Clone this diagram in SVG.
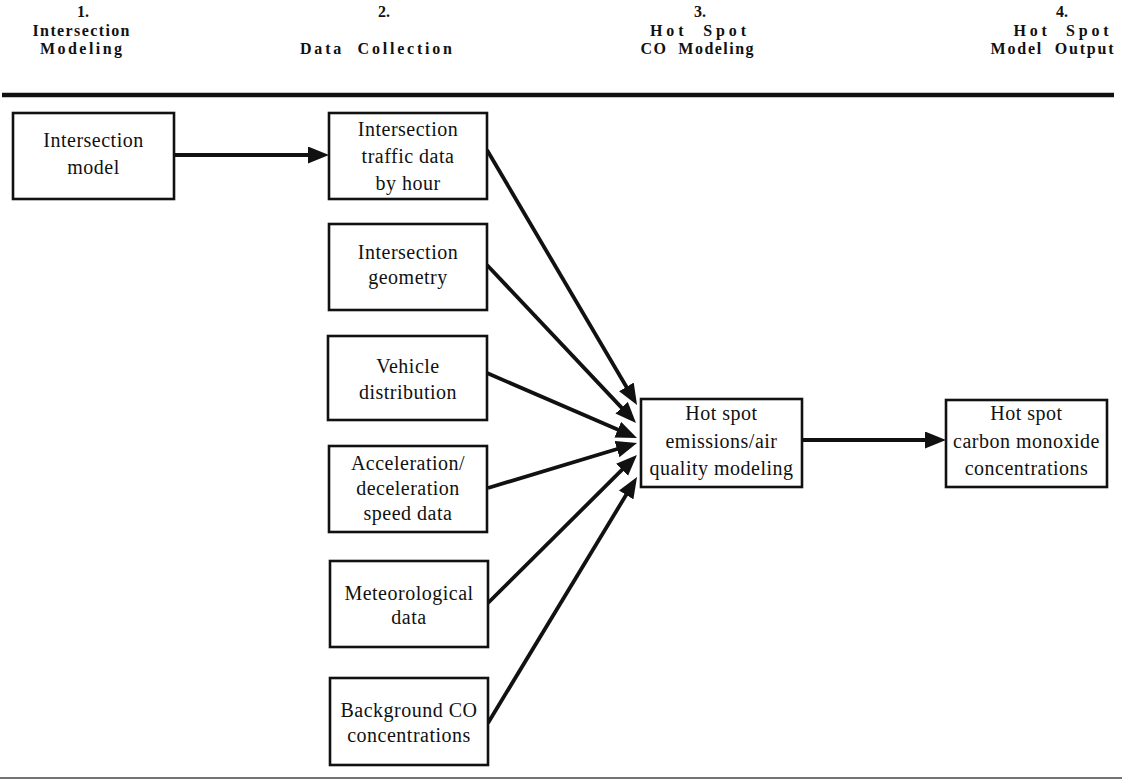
<svg xmlns="http://www.w3.org/2000/svg" width="1122" height="780" viewBox="0 0 1122 780">
<style>
.hd{font-family:"Liberation Serif","Times New Roman",serif;font-weight:bold;font-size:16px;fill:#111;text-anchor:middle}
.box{fill:#fff;stroke:#111;stroke-width:2.6}
.t{font-family:"Liberation Serif","Times New Roman",serif;font-size:20px;letter-spacing:0.5px;fill:#111;text-anchor:middle}
.c{stroke:#111;stroke-width:3.8;fill:none;marker-end:url(#ah)}
</style>
<defs>
<marker id="ah" markerUnits="userSpaceOnUse" markerWidth="22" markerHeight="18" refX="15" refY="8.5" orient="auto" viewBox="0 0 22 18">
<path d="M0,0 L21,8.5 L0,17 Z" fill="#111"/>
</marker>
</defs>
<rect width="1122" height="780" fill="#fff"/>
<g id="header">
<text class="hd" x="83" y="17">1.</text>
<text class="hd" x="81" y="35.5" textLength="97" lengthAdjust="spacing">Intersection</text>
<text class="hd" x="81" y="54" textLength="82" lengthAdjust="spacing">Modeling</text>
<text class="hd" x="384" y="17">2.</text>
<text class="hd" x="376" y="54" textLength="152" lengthAdjust="spacing" xml:space="preserve">Data  Collection</text>
<text class="hd" x="700" y="17">3.</text>
<text class="hd" x="698" y="35.5" textLength="96" lengthAdjust="spacing" xml:space="preserve">Hot  Spot</text>
<text class="hd" x="697" y="54" textLength="113" lengthAdjust="spacing" xml:space="preserve">CO  Modeling</text>
<text class="hd" x="1062" y="17">4.</text>
<text class="hd" x="1061" y="35.5" textLength="95" lengthAdjust="spacing" xml:space="preserve">Hot  Spot</text>
<text class="hd" x="1052" y="54" textLength="123" lengthAdjust="spacing" xml:space="preserve">Model  Output</text>
<line x1="2" y1="95" x2="1114" y2="95" stroke="#111" stroke-width="4.5"/>
<line x1="0" y1="778" x2="1122" y2="778" stroke="#444" stroke-width="1.5"/>
</g>
<g id="connectors">
<line class="c" x1="174" y1="155" x2="323" y2="155"/>
<line class="c" x1="487" y1="150" x2="634" y2="399.8"/>
<line class="c" x1="487" y1="265" x2="631.9" y2="418.6"/>
<line class="c" x1="487" y1="373" x2="631.5" y2="435.6"/>
<line class="c" x1="488" y1="488" x2="631.3" y2="444.7"/>
<line class="c" x1="488" y1="603" x2="632.7" y2="459.2"/>
<line class="c" x1="488" y1="723" x2="633.9" y2="482.1"/>
<line class="c" x1="802" y1="440" x2="940" y2="440"/>
</g>
<g id="intersection-model">
<rect class="box" x="13" y="113" width="161" height="86"/>
<text class="t" x="93.5" y="147">Intersection</text>
<text class="t" x="93.5" y="174">model</text>
</g>
<g id="traffic-data">
<rect class="box" x="329" y="113" width="158" height="86"/>
<text class="t" x="408" y="136">Intersection</text>
<text class="t" x="408" y="163">traffic data</text>
<text class="t" x="408" y="190">by hour</text>
</g>
<g id="geometry">
<rect class="box" x="329" y="224" width="158" height="86"/>
<text class="t" x="408" y="259">Intersection</text>
<text class="t" x="408" y="284">geometry</text>
</g>
<g id="vehicle">
<rect class="box" x="328" y="336" width="159" height="84"/>
<text class="t" x="408" y="373">Vehicle</text>
<text class="t" x="408" y="399">distribution</text>
</g>
<g id="acceleration">
<rect class="box" x="329" y="446" width="158" height="86"/>
<text class="t" x="408" y="470">Acceleration/</text>
<text class="t" x="408" y="495">deceleration</text>
<text class="t" x="408" y="520">speed data</text>
</g>
<g id="meteorological">
<rect class="box" x="330" y="561" width="158" height="86"/>
<text class="t" x="409" y="600">Meteorological</text>
<text class="t" x="409" y="624">data</text>
</g>
<g id="background-co">
<rect class="box" x="330" y="678" width="158" height="87"/>
<text class="t" x="409" y="717">Background CO</text>
<text class="t" x="409" y="742">concentrations</text>
</g>
<g id="hot-spot-modeling">
<rect class="box" x="641" y="399" width="161" height="88"/>
<text class="t" x="721.5" y="420">Hot spot</text>
<text class="t" x="721.5" y="448">emissions/air</text>
<text class="t" x="721.5" y="475">quality modeling</text>
</g>
<g id="hot-spot-output">
<rect class="box" x="946" y="400" width="161" height="87"/>
<text class="t" x="1026.5" y="420">Hot spot</text>
<text class="t" x="1026.5" y="448">carbon monoxide</text>
<text class="t" x="1026.5" y="475">concentrations</text>
</g>
</svg>
